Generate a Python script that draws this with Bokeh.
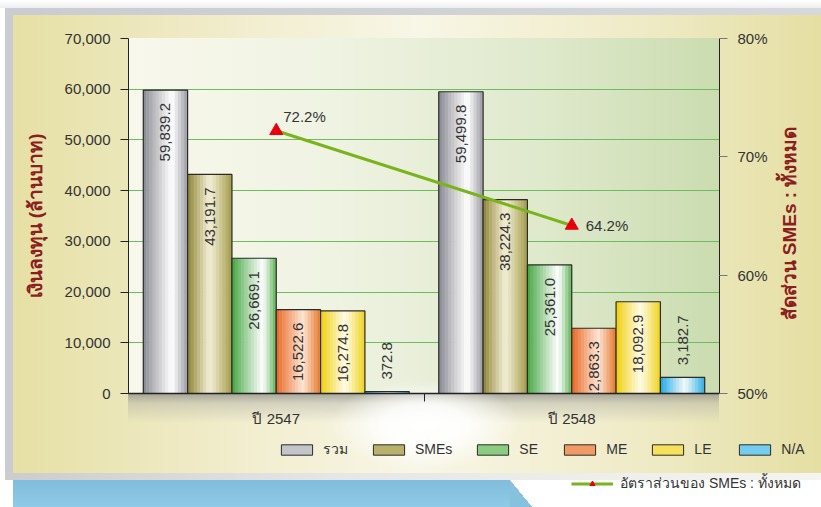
import math
from bokeh.plotting import figure
from bokeh.layouts import column, row
from bokeh.models import (ColumnDataSource, Range1d, LinearAxis, FixedTicker,
                          NumeralTickFormatter, PrintfTickFormatter, Legend, LegendItem, Label)
from bokeh.core.properties import value
from bokeh.embed import file_html
from bokeh.resources import INLINE

# ---------------- data ----------------
years = ["ปี 2547", "ปี 2548"]
series = ["รวม", "SMEs", "SE", "ME", "LE", "N/A"]
total = [59839.2, 59499.8]
smes = [43191.7, 38224.3]
se = [26669.1, 25361.0]
me = [16522.6, 12863.3]
le = [16274.8, 18092.9]
na = [372.8, 3182.7]
share_pct = [72.2, 64.2]
share_label = "อัตราส่วนของ SMEs : ทั้งหมด"
left_ticks = [0, 10000, 20000, 30000, 40000, 50000, 60000, 70000]
right_ticks = [50, 60, 70, 80]
y_title = "เงินลงทุน (ล้านบาท)"
y2_title = "สัดส่วน SMEs : ทั้งหมด"

values = [total, smes, se, me, le, na]

# ---------------- style ----------------
FONT = "Liberation Sans"
TXT = "#333333"
TITLE_COL = "#8b1f1f"
# (left edge, highlight, right edge, highlight position, legend colour)
shades = [
    ("#85858f", "#ffffff", "#9a9aa2", 0.65, "#c4c4cb"),
    ("#8a7f2e", "#f3efd6", "#a39a48", 0.50, "#b9b06a"),
    ("#3ea33a", "#ffffff", "#60b257", 0.70, "#8ccc80"),
    ("#e8621e", "#fde4d2", "#e5772e", 0.60, "#f29a66"),
    ("#efcd00", "#fffbe6", "#efd31c", 0.55, "#f6e25a"),
    ("#14a5e3", "#f2f9fc", "#2aaee2", 0.55, "#74cdef"),
]
bar_w = 0.15
group_start = 0.05
n_strips = 14

W, H = 821, 507
MAIN_W, MAIN_H = 770, 436

# background layers: (list of css images, x, y, w, h) in page pixels
layers = [
    (["linear-gradient(to top right, #86c1de 50%, rgba(0,0,0,0) 50%)"], 510, 480, 22, 27),
    (["linear-gradient(to bottom, #80bcdb, #8fcbe8)"], 13, 480, 497, 27),
    (["linear-gradient(to right, #cccccc, #e6e6e4 40%, #f4f4f0)"], 5, 473, 816, 7),
    (["radial-gradient(ellipse closest-side, rgba(255,255,255,1) 0%, rgba(255,255,255,0.85) 45%, rgba(255,255,255,0) 100%)"],
     330, 380, 190, 90),
    (["linear-gradient(to bottom, rgba(140,140,132,0.75) 0%, rgba(175,175,165,0.45) 35%, rgba(220,220,205,0) 100%)"],
     128, 393, 591, 30),
    (["linear-gradient(to right, #f8f8ec 0%, #eff3e2 35%, #dfe9cc 70%, #cbdcb0 100%)"], 128, 38, 591, 355),
    (["linear-gradient(to right, #e6e0a5 0%, #f2eed0 30%, #f8f6e6 50%, #f0ecca 75%, #e5dfa3 100%)"], 13, 15, 808, 458),
    (["linear-gradient(to right, #c9ccd0, #d6d8db)"], 5, 8, 816, 472),
    (["linear-gradient(to bottom, #ffffff, #eeeeee)"], 0, 0, 821, 8),
]


def css_bg(ox, oy):
    parts = []
    for imgs, x, y, w, h in layers:
        for one in imgs:
            parts.append("%s %dpx %dpx / %dpx %dpx no-repeat" % (one, x - ox, y - oy, w, h))
    parts.append("#ffffff")
    return {"background": ", ".join(parts)}


def hex2rgb(h):
    h = h.lstrip("#")
    return [int(h[i:i + 2], 16) for i in (0, 2, 4)]


def mix(a, b, f):
    a, b = hex2rgb(a), hex2rgb(b)
    return "#%02x%02x%02x" % tuple(int(round(a[i] + (b[i] - a[i]) * f)) for i in range(3))


def shade(l, h, r, p, t):
    if t <= p:
        return mix(l, h, (t / p) ** 0.9)
    return mix(h, r, ((t - p) / (1 - p)) ** 1.1)


def clear(fig):
    fig.background_fill_color = None
    fig.border_fill_color = None
    fig.outline_line_color = None


# ================= main chart =================
p = figure(width=MAIN_W, height=MAIN_H, x_range=Range1d(0, 2), y_range=Range1d(0, 70000),
           output_backend="svg", toolbar_location=None,
           min_border_left=128, min_border_right=MAIN_W - 719, min_border_top=38,
           min_border_bottom=MAIN_H - 393)
clear(p)
p.styles = css_bg(0, 0)

la = p.yaxis[0]
la.ticker = FixedTicker(ticks=left_ticks)
la.formatter = NumeralTickFormatter(format="0,0")
la.minor_tick_line_color = None
la.major_tick_out = 8
la.major_tick_in = 0
la.major_label_standoff = 10
la.major_label_text_font = FONT
la.major_label_text_font_size = "15px"
la.major_label_text_color = TXT
la.axis_line_color = "#222222"
la.major_tick_line_color = "#222222"
la.axis_label = y_title
la.axis_label_text_font = FONT
la.axis_label_text_font_style = "bold"
la.axis_label_text_font_size = "19px"
la.axis_label_text_color = TITLE_COL
la.axis_label_standoff = 16

p.ygrid.ticker = FixedTicker(ticks=left_ticks)
p.ygrid.grid_line_color = "#6cbd5e"
p.xgrid.visible = False

xa = p.xaxis[0]
xa.ticker = FixedTicker(ticks=[0.5, 1.5], minor_ticks=[1.0])
xa.major_label_overrides = {0.5: years[0], 1.5: years[1]}
xa.major_tick_out = 0
xa.major_tick_in = 0
xa.minor_tick_out = 8
xa.minor_tick_in = 0
xa.minor_tick_line_color = "#222222"
xa.axis_line_color = "#222222"
xa.axis_line_width = 1.5
xa.major_label_standoff = 8
xa.major_label_text_font = FONT
xa.major_label_text_font_size = "15px"
xa.major_label_text_color = TXT

p.extra_y_ranges = {"pct": Range1d(50, 80)}
ra = LinearAxis(y_range_name="pct", ticker=FixedTicker(ticks=right_ticks),
                formatter=PrintfTickFormatter(format="%d%%"))
ra.minor_tick_line_color = None
ra.major_tick_out = 8
ra.major_tick_in = 0
ra.major_label_standoff = 10
ra.major_label_text_font = FONT
ra.major_label_text_font_size = "15px"
ra.major_label_text_color = TXT
ra.axis_line_color = "#222222"
ra.major_tick_line_color = "#777777"
p.add_layout(ra, "right")

for s, vals in enumerate(values):
    l, h, r, pos, leg = shades[s]
    centers = [c + group_start + bar_w * (s + 0.5) for c in range(len(years))]
    sx, stop, scol = [], [], []
    for c, v in zip(centers, vals):
        for j in range(n_strips):
            t = (j + 0.5) / n_strips
            sx.append(c - bar_w / 2 + bar_w * t)
            stop.append(v)
            scol.append(shade(l, h, r, pos, t))
    p.vbar(x=sx, top=stop, width=bar_w / n_strips * 1.15, bottom=0,
           fill_color=scol, line_color=None)
    p.vbar(x=centers, top=vals, width=bar_w, bottom=0,
           fill_alpha=0, line_color="#2b2b2b", line_width=1.2)

    inside = [v > 8000 for v in vals]
    src = ColumnDataSource(dict(
        x=centers, y=vals,
        t=["{:,.1f}".format(v) for v in vals],
        align=["right" if i else "left" for i in inside],
        yo=[13 if i else -12 for i in inside],
    ))
    p.text(x="x", y="y", text="t", source=src, angle=math.pi / 2,
           text_align="align", text_baseline="middle", y_offset="yo",
           text_font=value(FONT), text_font_size="15px", text_color=TXT)

cat_x = [c + 0.5 for c in range(len(years))]
LINE_COL = "#79b41c"
TRI_COL = "#e8000b"
p.line(x=cat_x, y=share_pct, y_range_name="pct", line_color=LINE_COL, line_width=3)
p.scatter(x=cat_x, y=share_pct, y_range_name="pct", marker="triangle", size=13,
          fill_color=TRI_COL, line_color=TRI_COL)
lsrc = ColumnDataSource(dict(x=cat_x, y=share_pct,
                             t=["{:.1f}%".format(v) for v in share_pct],
                             xo=[7, 14], yo=[-14, 0]))
p.text(x="x", y="y", text="t", source=lsrc, y_range_name="pct", x_offset="xo", y_offset="yo",
       text_align="left", text_baseline="middle",
       text_font=value(FONT), text_font_size="15px", text_color=TXT)

# ================= right-hand axis title =================
side = figure(width=W - MAIN_W, height=MAIN_H, x_range=Range1d(0, 1), y_range=Range1d(0, 1),
              output_backend="svg", toolbar_location=None, min_border=0,
              x_axis_location=None, y_axis_location=None)
clear(side)
side.grid.visible = False
side.styles = css_bg(MAIN_W, 0)
side.add_layout(Label(x=19, y=170, x_units="screen", y_units="screen", text=y2_title,
                      angle=math.pi / 2, text_align="center", text_baseline="middle",
                      text_font=FONT, text_font_style="bold", text_font_size="19px",
                      text_color=TITLE_COL))

# ================= legend strip =================
lf = figure(width=W, height=H - MAIN_H, x_range=Range1d(0, 1), y_range=Range1d(0, 1),
            output_backend="svg", toolbar_location=None, min_border=0,
            x_axis_location=None, y_axis_location=None)
clear(lf)
lf.grid.visible = False
lf.styles = css_bg(0, MAIN_H)

# legend-only renderers: one point each, lying below the visible range
leg_items = []
for s in range(len(series)):
    r_ = lf.vbar(x=[0.5], bottom=[-3], top=[-2], width=0.1,
                 fill_color=shades[s][4], line_color="#2b2b2b")
    leg_items.append(LegendItem(label=series[s], renderers=[r_]))
lr = lf.line(x=[0.4, 0.6], y=[-2, -2], line_color=LINE_COL, line_width=3)
tr = lf.scatter(x=[0.5], y=[-2], marker="triangle", size=13, fill_color=TRI_COL, line_color=TRI_COL)

leg1 = Legend(items=leg_items, orientation="horizontal", location=(277, 47))
leg2 = Legend(items=[LegendItem(label=share_label, renderers=[lr, tr])],
              orientation="horizontal", location=(571, 13))
for lg, gw in ((leg1, 39), (leg2, 42)):
    lg.border_line_color = None
    lg.background_fill_alpha = 0
    lg.padding = 0
    lg.margin = 0
    lg.spacing = 21
    lg.label_standoff = 7
    lg.glyph_width = gw
    lg.glyph_height = 13
    lg.label_height = 13
    lg.label_text_font = FONT
    lg.label_text_font_size = "14px"
    lg.label_text_color = TXT
    lf.add_layout(lg)

layout = column(row(p, side, spacing=0), lf, spacing=0)
open("out.html", "w").write(file_html(layout, INLINE))
